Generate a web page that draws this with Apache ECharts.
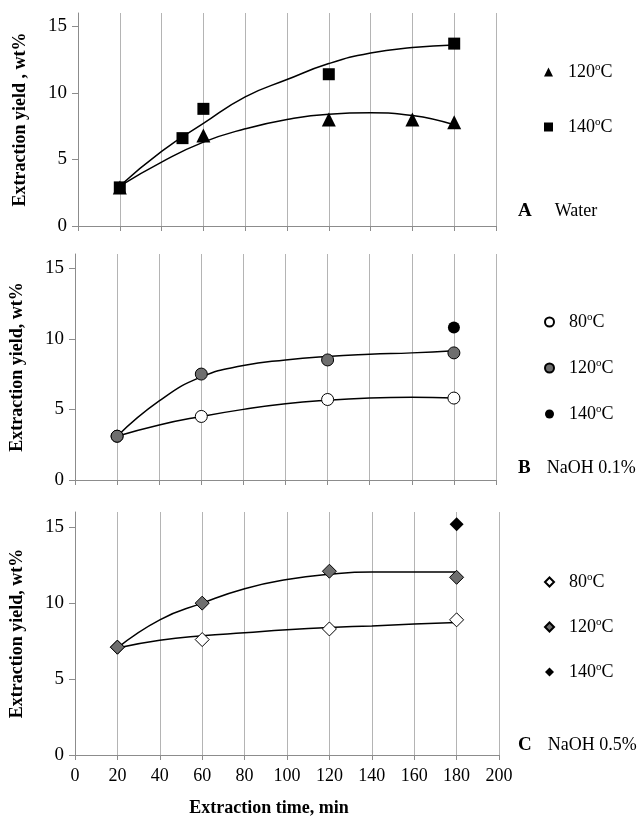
<!DOCTYPE html>
<html>
<head>
<meta charset="utf-8">
<script src="https://cdn.jsdelivr.net/npm/echarts@6/dist/echarts.min.js"></script>
<style>
html, body { margin: 0; padding: 0; background: #fff; }
#chart { width: 642px; height: 818px; }
</style>
</head>
<body>
<div id="chart"></div>
<script>
// 刻度
var yTicks = [0, 5, 10, 15];
var trendTime = [20, 40, 60, 80, 100, 120, 140, 160, 180];

// A  Water
var waterTime120 = [20, 60, 120, 160, 180];
var water120 = [2.9, 6.8, 8.0, 8.0, 7.8];
var waterTime140 = [20, 50, 60, 120, 180];
var water140 = [2.9, 6.6, 8.8, 11.4, 13.7];
var waterFit120 = [3.0, 4.8, 6.3, 7.3, 8.0, 8.4, 8.5, 8.3, 7.6];
var waterFit140 = [3.0, 5.6, 7.7, 9.7, 11.0, 12.2, 13.0, 13.4, 13.6];

// B  NaOH 0.1%
var naohTime = [20, 60, 120, 180];
var naoh01_80 = [3.1, 4.5, 5.7, 5.8];
var naoh01_120 = [3.1, 7.5, 8.5, 9.0];
var naoh01Time140 = [180];
var naoh01_140 = [10.8];
var naoh01Fit80 = [3.1, 3.9, 4.5, 5.0, 5.4, 5.65, 5.8, 5.85, 5.8];
var naoh01Fit120 = [3.1, 5.6, 7.3, 8.1, 8.5, 8.75, 8.9, 9.0, 9.15];

// C  NaOH 0.5%
var naoh05_80 = [7.1, 7.6, 8.3, 8.9];
var naoh05_120 = [7.1, 10.0, 12.1, 11.7];
var naoh05Time140 = [180];
var naoh05_140 = [15.2];
var naoh05Fit80 = [7.05, 7.55, 7.85, 8.05, 8.25, 8.4, 8.5, 8.62, 8.72];
var naoh05Fit120 = [7.05, 8.9, 10.0, 10.95, 11.55, 11.9, 12.05, 12.05, 12.05];

var ff = 'Liberation Serif';
var gridColor = '#b4b4b4';
var axisColor = '#8c8c8c';
var greyFill = '#6e6e6e';

function pairs(xs, ys) {
    var out = [];
    for (var i = 0; i < xs.length; i++) out.push([xs[i], ys[i]]);
    return out;
}

function makeX(idx, showLabel, name) {
    return {
        gridIndex: idx, type: 'value', min: 0, max: 200, interval: 20,
        axisLine: {show: true, lineStyle: {color: axisColor}},
        axisTick: {show: true, length: 5, lineStyle: {color: axisColor}},
        axisLabel: {show: showLabel, color: '#000', fontFamily: ff, fontSize: 18, margin: 12},
        splitLine: {show: true, lineStyle: {color: gridColor, width: 1}},
        name: name || '', nameLocation: 'middle', nameGap: 44,
        nameTextStyle: {color: '#000', fontFamily: ff, fontSize: 18, fontWeight: 'bold', padding: [0, 36, 0, 0]}
    };
}

function makeY(idx, name) {
    return {
        gridIndex: idx, type: 'value', min: 0, max: 16, interval: 5,
        axisLine: {show: true, lineStyle: {color: axisColor}},
        axisTick: {show: true, length: 6, customValues: yTicks, lineStyle: {color: axisColor}},
        axisLabel: {color: '#000', fontFamily: ff, fontSize: 19, margin: 11, customValues: yTicks,
            formatter: function (v) { return v % 5 === 0 ? v : ''; }},
        splitLine: {show: false},
        name: name, nameLocation: 'middle', nameGap: 49,
        nameTextStyle: {color: '#000', fontFamily: ff, fontSize: 18, fontWeight: 'bold'}
    };
}

function dots(name, idx, xs, ys, symbol, size, fill) {
    return {
        name: name, type: 'scatter', xAxisIndex: idx, yAxisIndex: idx, z: 5,
        symbol: symbol, symbolSize: size,
        itemStyle: {color: fill, opacity: 1, borderColor: '#000', borderWidth: fill === '#000' ? 0 : 1},
        emphasis: {disabled: true},
        data: pairs(xs, ys)
    };
}

function trend(idx, ys) {
    return {
        type: 'line', xAxisIndex: idx, yAxisIndex: idx, z: 3,
        smooth: 0.5, symbol: 'none', silent: true,
        lineStyle: {color: '#000', width: 1.5},
        data: pairs(trendTime, ys)
    };
}

var legendRich = {
    g: {width: 10, lineHeight: 20},
    t: {fontFamily: ff, fontSize: 18, color: '#000', lineHeight: 20},
    s: {fontFamily: ff, fontSize: 11, color: '#000', lineHeight: 20, verticalAlign: 'top'}
};
function legendLabel(name) {
    var temp = name.split(' ')[1];
    return '{g|}{t|' + temp + '}{s|o}{t|C}';
}
function makeLegend(names, top, gap) {
    return {
        orient: 'vertical', left: 544, top: top, itemGap: gap, padding: 0,
        itemWidth: 9, itemHeight: 9, selectedMode: false,
        itemStyle: {opacity: 1},
        data: names, formatter: legendLabel,
        textStyle: {rich: legendRich}
    };
}

var titleRich = {
    b: {fontFamily: ff, fontSize: 19, fontWeight: 'bold', color: '#000', lineHeight: 20},
    n: {fontFamily: ff, fontSize: 18, fontWeight: 'normal', color: '#000', lineHeight: 20}
};
function makeTitle(letter, gapW, text, top) {
    var rich = {gap: {width: gapW}};
    for (var k in titleRich) rich[k] = titleRich[k];
    return {
        left: 518, top: top, padding: 0,
        text: '{b|' + letter + '}{gap|}{n|' + text + '}',
        textStyle: {fontWeight: 'normal', rich: rich}
    };
}

var myChart = echarts.init(document.getElementById('chart'));
var option = {
    backgroundColor: '#fff',
    animation: false,
    grid: [
        {left: 78, top: 13, width: 418, height: 213},
        {left: 75, top: 254, width: 421, height: 226},
        {left: 75, top: 512, width: 424, height: 247}
    ],
    xAxis: [makeX(0, false), makeX(1, false), makeX(2, true, 'Extraction time, min')],
    yAxis: [makeY(0, 'Extraction yield , wt%'), makeY(1, 'Extraction yield, wt%'), makeY(2, 'Extraction yield, wt%')],
    legend: [
        makeLegend(['A 120', 'A 140'], 62, 36),
        makeLegend(['B 80', 'B 120', 'B 140'], 312, 27),
        makeLegend(['C 80', 'C 120', 'C 140'], 572, 26)
    ],
    title: [
        makeTitle('A', 23, 'Water', 201),
        makeTitle('B', 16, 'NaOH 0.1%', 458),
        makeTitle('C', 16, 'NaOH 0.5%', 735)
    ],
    series: [
        trend(0, waterFit120),
        trend(0, waterFit140),
        dots('A 120', 0, waterTime120, water120, 'triangle', 14, '#000'),
        dots('A 140', 0, waterTime140, water140, 'rect', 12, '#000'),

        trend(1, naoh01Fit80),
        trend(1, naoh01Fit120),
        dots('B 80', 1, naohTime, naoh01_80, 'circle', 12, '#fff'),
        dots('B 120', 1, naohTime, naoh01_120, 'circle', 12, greyFill),
        dots('B 140', 1, naoh01Time140, naoh01_140, 'circle', 12, '#000'),

        trend(2, naoh05Fit80),
        trend(2, naoh05Fit120),
        dots('C 80', 2, naohTime, naoh05_80, 'diamond', 14, '#fff'),
        dots('C 120', 2, naohTime, naoh05_120, 'diamond', 14, greyFill),
        dots('C 140', 2, naoh05Time140, naoh05_140, 'diamond', 14, '#000')
    ]
};
myChart.setOption(option);
</script>
</body>
</html>
